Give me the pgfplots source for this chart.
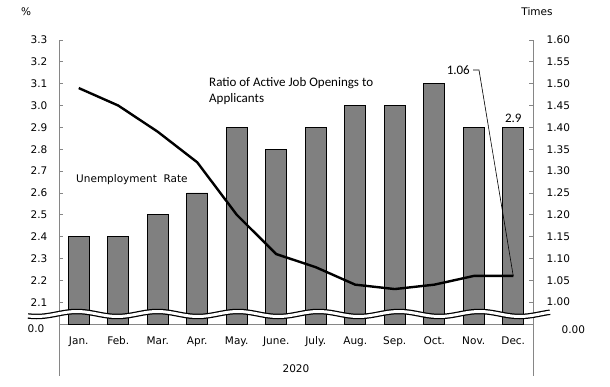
\documentclass[border=0pt]{standalone}
\usepackage{pgfplots}
\pgfplotsset{compat=1.18}
\usepackage{fontspec}
\setmainfont{DejaVu Sans}
\newfontfamily\calfont{Carlito}
\definecolor{axisgray}{RGB}{134,134,134}
\definecolor{bargray}{RGB}{128,128,128}
\begin{document}
\begin{tikzpicture}
\fontsize{10.5}{12}\selectfont
\path[use as bounding box] (0pt,0pt) rectangle (610pt,386pt);
\begin{axis}[
  scale only axis, width=474pt, height=284pt,
  at={(59pt,62pt)}, anchor=south west,
  xmin=-0.5, xmax=11.5, ymin=2.0, ymax=3.3,
  axis x line*=bottom, axis y line*=left,
  axis line style={axisgray, line width=0.8pt},
  tick align=inside, major tick length=4pt,
  tick style={axisgray, line width=0.8pt},
  xtick={0,...,11},
  xticklabels={Jan.,Feb.,Mar.,Apr.,May.,June.,July.,Aug.,Sep.,Oct.,Nov.,Dec.},
  x tick style={draw=none},
  x tick label style={font=\fontsize{10.5}{12}\selectfont, yshift=-9pt},
  ytick={2.1,2.2,...,3.31},
  y tick label style={font=\fontsize{10.5}{12}\selectfont, xshift=-8pt},
  yticklabel style={/pgf/number format/fixed, /pgf/number format/fixed zerofill, /pgf/number format/precision=1, /pgf/number format/assume math mode=true},
  extra y ticks={2.0}, extra y tick labels={0.0},
  extra y tick style={tick style={draw=none}, y tick label style={xshift=-3pt, yshift=-5pt}},
  clip mode=individual,
]
\addplot[ybar, bar width=21pt, bar shift=0pt, fill=bargray, draw=black, line width=0.8pt]
  coordinates {(0,2.4) (1,2.4) (2,2.5) (3,2.6) (4,2.9) (5,2.8) (6,2.9) (7,3.0) (8,3.0) (9,3.1) (10,2.9) (11,2.9)};
\node[anchor=base, font=\calfont\fontsize{13}{15}\selectfont, yshift=4.5pt] at (axis cs:11,2.9) {2.9};
\end{axis}
\begin{axis}[
  scale only axis, width=474pt, height=284pt,
  at={(59pt,62pt)}, anchor=south west,
  xmin=-0.5, xmax=11.5, ymin=0.95, ymax=1.6,
  axis x line=none, axis y line*=right,
  axis line style={axisgray, line width=0.8pt},
  tick align=inside, major tick length=4pt,
  tick style={axisgray, line width=0.8pt},
  ytick={1.0,1.05,...,1.61},
  y tick label style={font=\fontsize{10.5}{12}\selectfont, xshift=10pt},
  yticklabel style={/pgf/number format/fixed, /pgf/number format/fixed zerofill, /pgf/number format/precision=2, /pgf/number format/assume math mode=true},
  extra y ticks={0.95}, extra y tick labels={0.00},
  extra y tick style={tick style={draw=none}, y tick label style={xshift=15pt, yshift=-6pt}},
  clip mode=individual,
]
\addplot[black, line width=2.4pt, line join=round, line cap=butt]
  coordinates {(0,1.49) (1,1.45) (2,1.39) (3,1.32) (4,1.20) (5,1.11) (6,1.08) (7,1.04) (8,1.03) (9,1.04) (10,1.06) (11,1.06)};
\coordinate (dec) at (axis cs:11,1.06);
\end{axis}
% axis extensions for category group
\draw[axisgray, line width=0.8pt] (59pt,62pt) -- (59pt,10pt);
\draw[axisgray, line width=0.8pt] (533pt,62pt) -- (533pt,10pt);
% break marks
\draw[black, line width=5.5pt] plot[smooth, domain=28:550, samples=120] ({\x*1pt},{72pt+2.5pt*cos(4.472*(\x-77))});
\draw[white, line width=3pt] plot[smooth, domain=27:551, samples=120] ({\x*1pt},{72pt+2.5pt*cos(4.472*(\x-77))});
% leader line
\draw[black, line width=0.6pt] (dec) -- (479pt,316pt) -- (473pt,316pt);
\node[anchor=base east, inner sep=0pt, font=\calfont\fontsize{13}{15}\selectfont] at (470pt,311.5pt) {1.06};
% texts
\node[anchor=base west, inner sep=0pt, font=\calfont\fontsize{13}{15}\selectfont] at (209pt,299pt) {Ratio of Active Job Openings to};
\node[anchor=base west, inner sep=0pt, font=\calfont\fontsize{13}{15}\selectfont] at (209pt,283pt) {Applicants};
\node[anchor=base west, inner sep=0pt] at (76pt,204pt) {Unemployment\ \ Rate};
\node[anchor=base, inner sep=0pt] at (296pt,14pt) {2020};
\node[anchor=base, inner sep=0pt] at (26pt,370pt) {\%};
\node[anchor=base, inner sep=0pt] at (537pt,370pt) {Times};
\end{tikzpicture}
\end{document}
